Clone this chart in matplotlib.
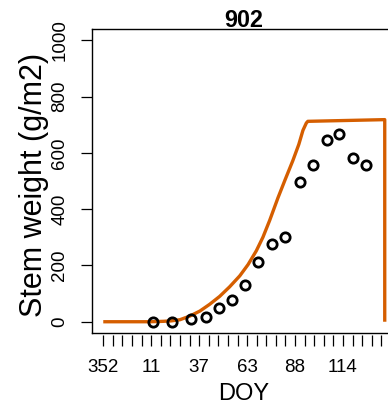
import numpy as np
import matplotlib
matplotlib.use("Agg")
import matplotlib.pyplot as plt

plt.rcParams["font.family"] = ["Liberation Sans", "DejaVu Sans"]

# days counted from DOY 352 of the previous year
sim_day = [0, 14, 25, 32, 36, 40.7, 46, 51.4, 56.6, 61.9, 67.2, 72.6, 77,
           81.4, 84.9, 88.5, 92.9, 96.8, 100.8, 104, 106.2, 108, 108.8,
           149.7, 149.7]
sim_stem = [0, 0, 0, 1.5, 3, 7, 20, 38, 62, 90, 124, 163, 203,
            252, 300, 360, 440, 506, 572, 630, 680, 706, 712,
            718, 0]

obs_day = [26.2, 36.3, 46.4, 54.5, 61.3, 68.5, 75.4, 82.5, 89.5, 96.4,
           104.6, 111.5, 118.8, 125.5, 132.6, 139.6]
obs_stem = [0, 0, 8, 18, 49, 77, 129, 212, 276, 300,
            496, 558, 644, 668, 581, 558]

tick_step = 5.1
n_ticks = 30
doy_labels = ["352", "11", "37", "63", "88", "114"]
y_ticks = [0, 200, 400, 600, 800, 1000]

fig = plt.figure(figsize=(3.88, 4.04), dpi=100)
ax = fig.add_axes([92 / 388, 71 / 404, 304 / 388, 304 / 404])

# ticks sit a little below the box, like R's axis()
# (set the spine position first: it resets the ticks)
for s in ax.spines.values():
    s.set_linewidth(1.0)
ax.spines["bottom"].set_position(("outward", 1.6))
ax.spines["bottom"].set_color("none")
ax.plot([0, 1], [0, 0], transform=ax.transAxes, color="black", lw=1.0,
        clip_on=False, zorder=4)

ax.plot(sim_day, sim_stem, color="#D55E00", lw=2.4,
        solid_capstyle="butt", solid_joinstyle="round", zorder=2)
ax.plot(obs_day, obs_stem, "o", ms=6.7, mfc="none", mec="black", mew=2.0,
        zorder=3)

# R style 4% padding
xmax = max(sim_day)
ax.set_xlim(-0.04 * xmax, xmax * 1.04)
ax.set_ylim(-40, 1040)

xt = np.arange(n_ticks) * tick_step
lbl = [""] * n_ticks
for i, s in enumerate(doy_labels):
    lbl[i * 5] = s
ax.set_xticks(xt)
ax.set_xticklabels(lbl, fontsize=13.5)
ax.set_yticks(y_ticks)
ax.set_yticklabels([str(v) for v in y_ticks], fontsize=13.5,
                   rotation=90, va="center")

ax.tick_params(axis="x", length=8, width=0.9, pad=9, direction="out")
ax.tick_params(axis="y", length=7.6, width=0.9, pad=9.5, direction="out")

ax.text(0.5, 1 + 2.3 / 304, "902", transform=ax.transAxes, ha="center",
        va="baseline", fontsize=16.8, fontweight="bold")
ax.text(0.5, -66.5 / 304, "DOY", transform=ax.transAxes, ha="center",
        va="baseline", fontsize=17)
ax.text(-50 / 304, 0.488, "Stem weight (g/m2)", transform=ax.transAxes,
        rotation=90, rotation_mode="anchor", ha="center", va="baseline",
        fontsize=22)

fig.savefig("out.png", dpi=100)
